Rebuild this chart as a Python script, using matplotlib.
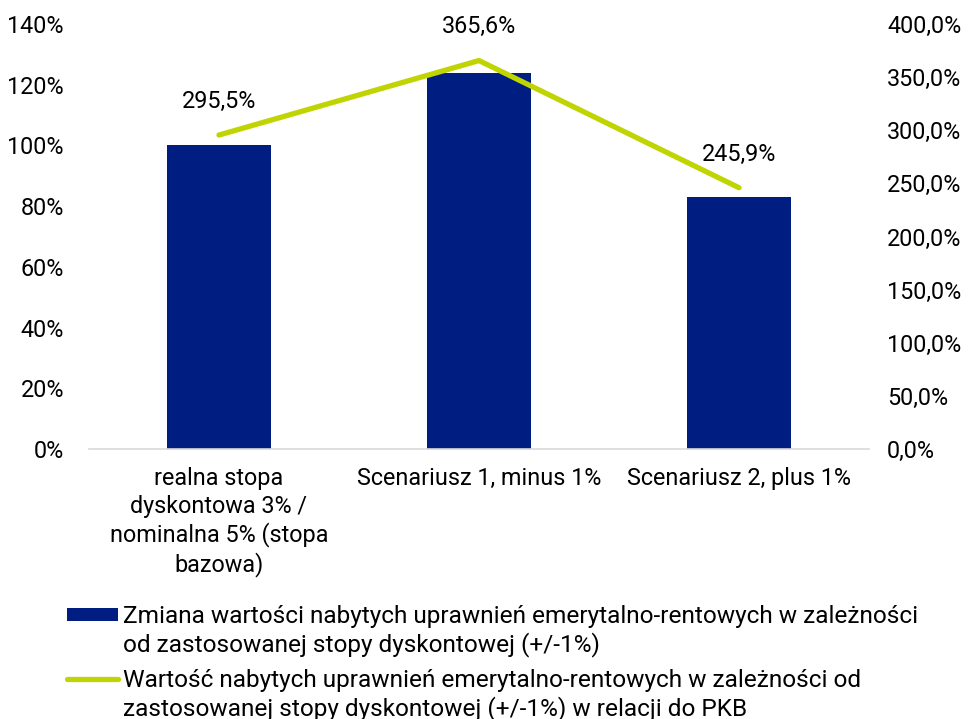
import matplotlib
matplotlib.use("Agg")
import matplotlib.pyplot as plt
from matplotlib.ticker import FuncFormatter
from matplotlib.patches import Rectangle
from matplotlib.lines import Line2D

categories = ["realna stopa\ndyskontowa 3% /\nnominalna 5% (stopa\nbazowa)",
              "Scenariusz 1, minus 1%",
              "Scenariusz 2, plus 1%"]
bar_values = [100.0, 124.0, 83.0]          # left axis, %
line_values = [295.5, 365.6, 245.9]        # right axis, %
line_labels = ["295,5%", "365,6%", "245,9%"]
legend_labels = ["Zmiana wartości nabytych uprawnień emerytalno-rentowych w zależności\nod zastosowanej stopy dyskontowej (+/-1%)",
                 "Wartość nabytych uprawnień emerytalno-rentowych w zależności od\nzastosowanej stopy dyskontowej (+/-1%) w relacji do PKB"]

NAVY = "#001E82"
LIME = "#BFD400"
plt.rcParams['font.family'] = ['Roboto', 'DejaVu Sans']
FS = 16.8
LEG_FS = 17.6

fig = plt.figure(figsize=(9.7, 7.19), dpi=100)
ax = fig.add_axes([89/970, 1-449/719, (869-89)/970, (449-24)/719])
x = list(range(len(categories)))
ax.bar(x, bar_values, width=0.4, color=NAVY, zorder=2)
ax.set_xlim(-0.5, 2.5)
ax.set_ylim(0, 140)
ax.set_yticks(range(0, 141, 20))
ax.yaxis.set_major_formatter(FuncFormatter(lambda v, p: f"{int(v)}%"))
ax.set_xticks(x)
ax.set_xticklabels(categories, fontsize=FS, linespacing=1.25)
ax.tick_params(axis='both', length=0, labelsize=FS)
ax.tick_params(axis='x', pad=13)
ax.tick_params(axis='y', pad=18)
for s in ["top", "left", "right"]:
    ax.spines[s].set_visible(False)
ax.spines["bottom"].set_color("#D9D9D9")
ax.spines["bottom"].set_linewidth(1.2)

ax2 = ax.twinx()
ax2.plot(x, line_values, color=LIME, lw=3.8, solid_capstyle='round', zorder=3)
ax2.set_ylim(0, 400)
ax2.set_yticks(range(0, 401, 50))
ax2.yaxis.set_major_formatter(FuncFormatter(lambda v, p: f"{v:.1f}%".replace(".", ",")))
ax2.tick_params(axis='y', length=0, labelsize=FS, pad=13)
for s in ["top", "left", "right", "bottom"]:
    ax2.spines[s].set_visible(False)
for xi, v, lab in zip(x, line_values, line_labels):
    ax2.annotate(lab, (xi, v), xytext=(0, 16), textcoords="offset points",
                 ha="center", va="bottom", fontsize=FS)

# manual legend in figure pixel coordinates
def fx(px): return px/970
def fy(py): return 1 - py/719
fig.patches.append(Rectangle((fx(67), fy(621)), fx(118)-fx(67), fy(608)-fy(621),
                             transform=fig.transFigure, facecolor=NAVY, edgecolor="none"))
fig.lines.append(Line2D([fx(67), fx(118)], [fy(679), fy(679)], transform=fig.transFigure,
                        color=LIME, lw=3.8, solid_capstyle='round'))
fig.text(fx(123), fy(651), legend_labels[0], ha="left", va="baseline", fontsize=LEG_FS,
         linespacing=1.2)
fig.text(fx(123), fy(715), legend_labels[1], ha="left", va="baseline", fontsize=LEG_FS,
         linespacing=1.2)

fig.savefig("out.png", dpi=100)
